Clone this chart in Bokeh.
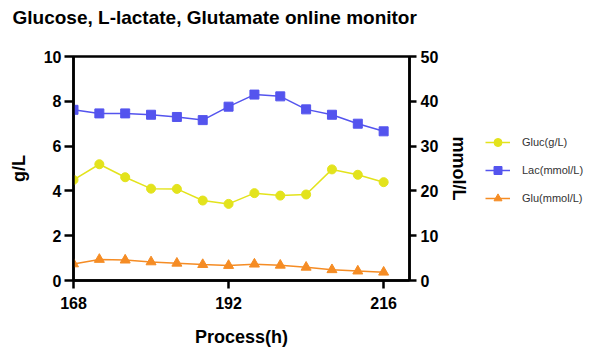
from bokeh.plotting import figure
from bokeh.layouts import row
from bokeh.models import Range1d, LinearAxis, Legend, LegendItem, FixedTicker, Title
from bokeh.embed import file_html
from bokeh.resources import INLINE

hours = [168, 172, 176, 180, 184, 188, 192, 196, 200, 204, 208, 212, 216]
gluc = [4.49, 5.19, 4.61, 4.10, 4.09, 3.57, 3.42, 3.90, 3.79, 3.84, 4.96, 4.72, 4.39]
lac = [38.1, 37.3, 37.3, 37.0, 36.5, 35.8, 38.8, 41.5, 41.1, 38.2, 37.0, 35.0, 33.3]
glu = [3.7, 4.7, 4.55, 4.15, 3.85, 3.55, 3.35, 3.65, 3.4, 2.95, 2.4, 2.1, 1.85]

x_ticks = [168, 192, 216]
left_ticks = [0, 2, 4, 6, 8, 10]
right_ticks = [0, 10, 20, 30, 40, 50]
labels = ["Gluc(g/L)", "Lac(mmol/L)", "Glu(mmol/L)"]

C_GLUC = "#E3E31C"
C_LAC = "#5454EE"
C_GLU = "#F58C24"
FONT = "Liberation Sans"

p = figure(width=473, height=349, output_backend="svg", toolbar_location=None,
           x_range=Range1d(168, 220), y_range=Range1d(0, 10),
           min_border_left=73, min_border_right=64, min_border_top=56, min_border_bottom=69)
p.extra_y_ranges = {"right": Range1d(0, 50)}

p.title.text = "Glucose, L-lactate, Glutamate online monitor"
p.title.text_font = FONT
p.title.text_font_size = "19px"
p.title.text_font_style = "bold"
p.title.text_color = "black"
p.title.align = "left"
p.title.offset = -61
p.title.standoff = 0
# blank gap between the title and the plot frame
p.add_layout(Title(text=" ", text_font_size="1px", standoff=26), "above")

p.grid.visible = False
p.outline_line_color = "black"
p.outline_line_width = 2.5
p.background_fill_color = "white"
p.border_fill_color = "white"

right_axis = LinearAxis(y_range_name="right")
p.add_layout(right_axis, "right")

for ax in [p.xaxis[0], p.yaxis[0], right_axis]:
    ax.axis_line_width = 2.5
    ax.axis_line_color = "black"
    ax.major_tick_line_width = 2.5
    ax.major_tick_in = 0
    ax.minor_tick_line_color = None
    ax.major_label_text_font = FONT
    ax.major_label_text_font_size = "16px"
    ax.major_label_text_font_style = "bold"
    ax.major_label_text_color = "black"
    ax.axis_label_text_font = FONT
    ax.axis_label_text_font_size = "18px"
    ax.axis_label_text_font_style = "bold"
    ax.axis_label_text_color = "black"

p.xaxis[0].ticker = FixedTicker(ticks=x_ticks)
p.xaxis[0].axis_label = "Process(h)"
p.xaxis[0].major_tick_out = 8
p.xaxis[0].major_label_standoff = 8
p.xaxis[0].axis_label_standoff = 15
p.yaxis[0].ticker = FixedTicker(ticks=left_ticks)
p.yaxis[0].axis_label = "g/L"
p.yaxis[0].major_tick_out = 9
p.yaxis[0].major_label_standoff = 3
p.yaxis[0].axis_label_standoff = 12
right_axis.ticker = FixedTicker(ticks=right_ticks)
right_axis.axis_label = "mmol/L"
right_axis.major_tick_out = 7
right_axis.major_label_standoff = 4
right_axis.axis_label_standoff = 8

p.line(hours, gluc, line_color=C_GLUC, line_width=1.5)
p.scatter(hours, gluc, marker="circle", size=9, fill_color=C_GLUC, line_color=C_GLUC)
p.line(hours, lac, line_color=C_LAC, line_width=1.5, y_range_name="right")
p.scatter(hours, lac, marker="square", size=9, fill_color=C_LAC, line_color=C_LAC, y_range_name="right")
p.line(hours, glu, line_color=C_GLU, line_width=1.5, y_range_name="right")
p.scatter(hours, glu, marker="triangle", size=10, fill_color=C_GLU, line_color=C_GLU, y_range_name="right")

# Legend panel (series drawn out of view so only the legend shows)
q = figure(width=119, height=349, output_backend="svg", toolbar_location=None,
           x_range=Range1d(0, 1), y_range=Range1d(0, 1),
           x_axis_location=None, y_axis_location=None,
           min_border_left=0, min_border_right=0, min_border_top=0, min_border_bottom=0)
q.grid.visible = False
q.outline_line_color = None
q.background_fill_color = "white"
q.border_fill_color = "white"

items = []
for lab, col, mk, sz, ys in zip(labels, [C_GLUC, C_LAC, C_GLU], ["circle", "square", "triangle"],
                                [9, 9, 10], [gluc, lac, glu]):
    ln = q.line(hours, ys, line_color=col, line_width=1.5)
    sc = q.scatter(hours, ys, marker=mk, size=sz, fill_color=col, line_color=col)
    items.append(LegendItem(label=lab, renderers=[ln, sc]))

legend = Legend(items=items, location=(12, 72))
legend.label_text_font = FONT
legend.label_text_font_size = "11px"
legend.label_text_color = "#333333"
legend.glyph_width = 25
legend.glyph_height = 20
legend.label_height = 20
legend.label_standoff = 12
legend.spacing = 8
legend.padding = 0
legend.margin = 0
legend.border_line_alpha = 0
legend.background_fill_alpha = 0
q.add_layout(legend, "center")

layout = row(p, q)
open("out.html", "w").write(file_html(layout, INLINE))
